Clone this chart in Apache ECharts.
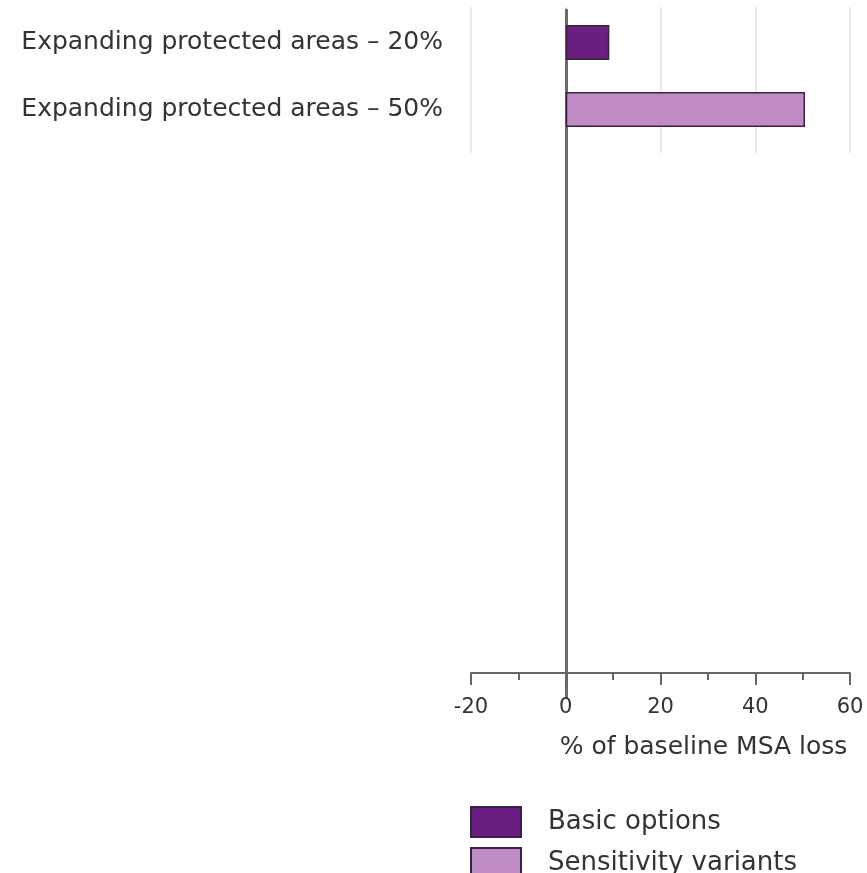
<!DOCTYPE html>
<html><head><meta charset="utf-8">
<script src="https://cdn.jsdelivr.net/npm/echarts@6/dist/echarts.min.js"></script>
<style>html,body{margin:0;padding:0;background:#fff}#c{width:867px;height:873px}</style>
</head><body><div id="c"></div>
<script>
const categories = ['Expanding protected areas \u2013 20%', 'Expanding protected areas \u2013 50%'];
const basicOptions = [9.2, '-'];
const sensitivityVariants = ['-', 50.5];
const xTicks = [-20, 0, 20, 40, 60];
const axisTitle = '% of baseline MSA loss';
const legendNames = ['Basic options', 'Sensitivity variants'];

const FONT = 'DejaVu Sans';
const chart = echarts.init(document.getElementById('c'), null, {renderer: 'canvas'});
const L = 471, W = 379;
const legendBase = {
  orient: 'vertical', left: 470, padding: 0, itemWidth: 50, itemHeight: 30,
  icon: 'rect',
  textStyle: {fontFamily: FONT, fontSize: 26, color: '#333', padding: [0, 0, 0, 22]}
};
chart.setOption({
  animation: false,
  backgroundColor: '#fff',
  textStyle: {fontFamily: FONT},
  grid: [
    {left: L, width: W, top: 9, height: 134},
    {left: L, width: W, top: 10, height: 687},
    {left: L, width: W, top: 7, height: 146}
  ],
  legend: [
    Object.assign({}, legendBase, {top: 806, data: [legendNames[0]]}),
    Object.assign({}, legendBase, {top: 847, data: [legendNames[1]]})
  ],
  xAxis: [
    {gridIndex: 0, type: 'value', min: xTicks[0], max: xTicks[xTicks.length-1], interval: 20,
     axisLine: {show: false}, axisTick: {show: false}, axisLabel: {show: false}, splitLine: {show: false}},
    {gridIndex: 1, type: 'value', min: xTicks[0], max: xTicks[xTicks.length-1], interval: 20,
     axisLine: {show: true, onZero: true, lineStyle: {color: '#666', width: 2}},
     axisTick: {show: true, inside: false, length: 12, lineStyle: {color: '#666', width: 2}},
     minorTick: {show: true, splitNumber: 2, length: 7, lineStyle: {color: '#666', width: 2}},
     axisLabel: {show: true, margin: 0, fontFamily: FONT, fontSize: 21, color: '#333'},
     splitLine: {show: false},
     name: axisTitle, nameLocation: 'middle', nameGap: 38,
     nameTextStyle: {fontFamily: FONT, fontSize: 25, color: '#333', padding: [0, 0, 0, 86]}},
    {gridIndex: 2, type: 'value', min: xTicks[0], max: xTicks[xTicks.length-1], interval: 20,
     axisLine: {show: false}, axisTick: {show: false}, axisLabel: {show: false},
     splitLine: {show: true, lineStyle: {color: '#e2e2e2', width: 1.5}}}
  ],
  yAxis: [
    {gridIndex: 0, type: 'category', data: categories, inverse: true,
     axisLine: {show: false}, axisTick: {show: false},
     axisLabel: {margin: 28, fontFamily: FONT, fontSize: 25, color: '#333'}},
    {gridIndex: 1, type: 'value', min: -24, max: 663,
     axisLine: {show: true, onZero: true, lineStyle: {color: '#6a6a6a', width: 3}},
     axisTick: {show: false}, axisLabel: {show: false}, splitLine: {show: false}},
    {gridIndex: 2, type: 'value', min: 0, max: 1, show: false}
  ],
  series: [
    {name: legendNames[0], type: 'bar', xAxisIndex: 0, yAxisIndex: 0, data: basicOptions,
     barWidth: 35, barGap: '-100%', z: 3,
     itemStyle: {color: '#6b1f80', borderColor: '#3a2340', borderWidth: 1.5}},
    {name: legendNames[1], type: 'bar', xAxisIndex: 0, yAxisIndex: 0, data: sensitivityVariants,
     barWidth: 35, barGap: '-100%', z: 3,
     itemStyle: {color: '#c08bc6', borderColor: '#3a2340', borderWidth: 1.5}}
  ]
});
</script></body></html>
